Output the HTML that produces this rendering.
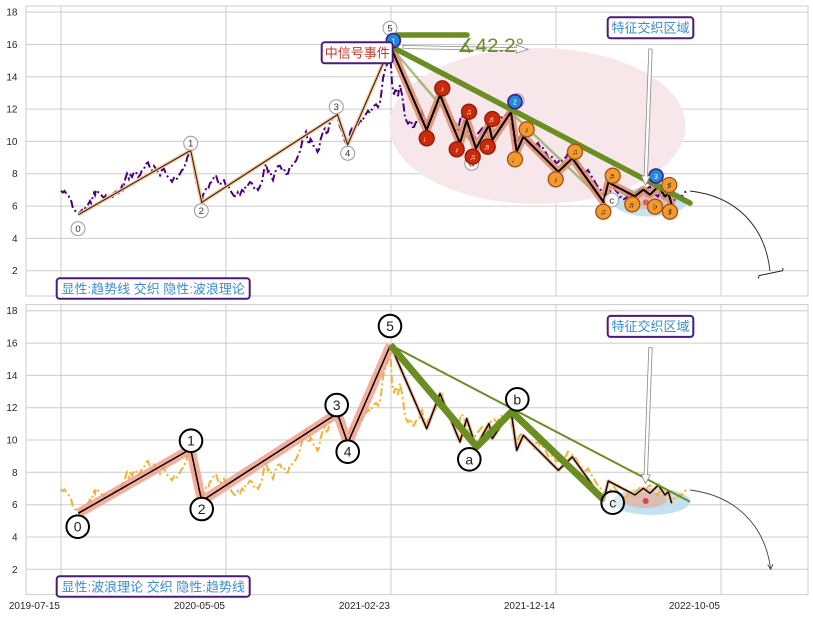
<!DOCTYPE html>
<html><head><meta charset="utf-8"><style>
html,body{margin:0;padding:0;background:#fff;}
svg{display:block;}
text{font-family:"Liberation Sans","Noto Sans CJK SC",sans-serif;}
.mk{font-family:"DejaVu Sans","Liberation Sans",sans-serif;font-size:8px;text-anchor:middle;}
</style></head><body>
<svg width="813" height="617" viewBox="0 0 813 617" xmlns="http://www.w3.org/2000/svg" xmlns:xlink="http://www.w3.org/1999/xlink">
<defs>
<clipPath id="ca"><rect x="26" y="6" width="782" height="290"/></clipPath>
<path id="price" d="M61,190.7 L63,192.5 64.5,191 66,193.1 68,195.5 70,198 71.5,202 73,208.5 74.5,210 76,211.7 78,213.5 80,212.5 82,210 83,212 84,210.9 86,206 88,204.4 90,201 91,203 92,199.6 94,193 95,195 96,189.9 98,192 100,193.1 102,196 104,198 106,195 108,196.4 110,199 112,198 114,193 116,191.5 118,194 120,191.5 122,186 123,189 124,185 125.5,178 127,173.7 129,179 130.5,175 132,177 134,172 136,172.1 138,177 140,175.3 142,170 144,168.9 146,164 148,162.4 150,168 152,170.5 154,166 156,168.9 158,172 160,175.3 162,170 164,168.9 166,174 168,177 170,179 172,181.8 174,178 176,180.2 178,177 180,173.7 182,170 184,168.9 185,165 186,164 187,158 188,155.9 189.5,152 190.7,151.1 192,158 193,164 194.5,172 196,180.2 197.5,186 199,193.1 200.5,198 201.7,201.2 203,195 204,193.1 206,189 208,189.9 210,183 212,181.8 214,177 216,175.3 218,182 220,185 222,181 224,180.2 226,186 228,185 230,190 232,193.1 234,196 236,196.4 238,192 240,194.7 242,190 244,191.5 246,185 248,185 250,182 252,183.4 254,188 256,186.7 258,190 259,188.3 261,184 262,181.8 264,170 266,164 268,172 270,170.5 272,178 273,180.2 275,172 276,170.5 278,166 280,165.7 282,170 284,168.9 286,174 288,173.7 290,166 292,165.7 294,163 296,160.8 298,156 300,151.1 301.5,145 303,138.2 304.5,134 306,131.7 307.5,140 309,144.6 310.5,139 312,141.4 314,147 316,147.9 317.5,152 319,149.5 320.5,140 322,134.9 323.5,130 325,128.5 326.5,133 328,131.7 329.5,124 331,122 332.5,119 334,117.2 335.5,116 337,115.6 338.5,121 340,126.8 341.5,130 343,134.9 344.5,140 346,143 347.5,145 349,138.2 350.5,131 352,128.5 354,130 356,126.8 358,125 360,120.4 362,122 364,117.2 366,114 368,110.7 370,113 372,109.1 374,106 376,104.3 378,107 380,102.6 381.5,92 383,78.4 384.5,72 386,67.1 387.5,63 388.5,60.6 389.5,57 390.5,55.8 391.2,70 392,83.2 393,90 394,94.6 395,91 396,88.1 397,93 398,96.2 399,90 400,84.9 401,90 402,94.6 403.5,105 405,117.2 406.5,121 408,123.6 409.5,122 411,120.4 412.5,127 414,126.8 416,122 418,122 420,118 422,112.3 424,120 426,125.3 428,122 430,118.8 432,117 434,114 436,109 438,104.3 440,99 442,96.2 444,104 446,110.7 448,115 450,118.8 452,124 454,128.5 456,130 458,131.7 460,120 462,115.6 464,121 466,123.6 468,131 470,136.5 472,140 474,141.4 476,136 478,133.3 480,131 482,128.5 484,133 486,134.9 488,128 490,125.3 492,121 494,120.4 496,123 498,122 500,118 502,117.2 504,115 506,115.6 508,113 510,114 511.5,125 513,133.3 514.5,142 516,147.9 517.5,142 519,138.2 520.5,136 522,134.9 524,139 526,141.4 528,142 530,144.6 532,146 534,149.5 536,145 538,143 540,147 542,146.3 544,150 546,152.7 548,157 550,159.2 552,157 554,159.2 556,163 558,162.4 560,159 562,160.8 564,158 566,157.6 568,153 570,154.3 572,156 574,157.6 576,160 578,164 580,167 582,168.9 584,171 586,172.1 588,170 590,173.7 592,177 594,180.2 596,184 598,186.7 600,189 602,191.5 604,195 606,196.4 608,192 610,191.5 612,189 614,188.3 616,191 618,193.1 620,197 622,196.4 624,199 626,198 628,195 630,194.7 632,197 634,196.4 636,193 638,191.5 640,189 642,188.3 644,192 646,191.5 648,188 650,186.7 652,190 654,193.1 656,195 658,196.4 660,193 662,194.7 664,198 666,198 668,196 670,198 672,201 674,201.2 676,197 678,198 680,196 682,196.4 684,193 686,191.5 688.5,189.9"/>
<g id="grid" stroke="#cccccc" stroke-width="1" fill="none">
<path d="M26,270.7H808M26,238.4H808M26,206.1H808M26,173.7H808M26,141.4H808M26,109.1H808M26,76.8H808M26,44.5H808M26,12.1H808"/>
<path d="M61,6V296M226,6V296M391,6V296M556,6V296M721,6V296"/>
<rect x="26" y="6" width="782" height="290"/>
</g>
</defs>
<rect width="813" height="617" fill="#fff"/>

<use xlink:href="#grid"/>
<use xlink:href="#grid" transform="translate(0,298.6)"/>

<!-- y tick labels -->
<g font-size="10" fill="#262626" text-anchor="end">
<text x="17.5" y="274.2">2</text><text x="17.5" y="241.9">4</text><text x="17.5" y="209.6">6</text><text x="17.5" y="177.2">8</text><text x="17.5" y="144.9">10</text><text x="17.5" y="112.6">12</text><text x="17.5" y="80.3">14</text><text x="17.5" y="48">16</text><text x="17.5" y="15.6">18</text>
<text x="17.5" y="572.8">2</text><text x="17.5" y="540.5">4</text><text x="17.5" y="508.2">6</text><text x="17.5" y="475.8">8</text><text x="17.5" y="443.5">10</text><text x="17.5" y="411.2">12</text><text x="17.5" y="378.9">14</text><text x="17.5" y="346.6">16</text><text x="17.5" y="314.2">18</text>
</g>
<g font-size="10" fill="#262626" text-anchor="end">
<text x="60" y="609">2019-07-15</text>
<text x="225" y="609">2020-05-05</text>
<text x="390" y="609">2021-02-23</text>
<text x="555" y="609">2021-12-14</text>
<text x="720" y="609">2022-10-05</text>
</g>

<!-- ================= TOP PANEL ================= -->
<g clip-path="url(#ca)">
<ellipse cx="537.5" cy="126" rx="148" ry="78" fill="#f7e7ea"/>
<ellipse cx="650" cy="202" rx="37" ry="14.5" fill="#b9dcef" opacity="0.8"/>
<ellipse cx="645" cy="201.4" rx="22" ry="8" fill="#e8a88e" opacity="0.55"/>
<circle cx="645.7" cy="202.4" r="3" fill="#d9434a" opacity="0.8"/>
<use xlink:href="#price" fill="none" stroke="#4b0082" stroke-width="2" stroke-dasharray="8,3,2,3"/>
<!-- main waves -->
<polyline points="78.3,214.7 190.7,150.4 201.7,202.4 337.5,114.7 347.7,144.7 390.5,46.4" fill="none" stroke="#f6c193" stroke-width="3.5" stroke-linejoin="round"/>
<polyline points="78.3,214.7 190.7,150.4 201.7,202.4 337.5,114.7 347.7,144.7 390.5,46.4" fill="none" stroke="#2a1a10" stroke-width="1"/>
<!-- light green abc -->
<polyline points="390.5,46.4 476.7,148.1 511.7,113.1 604,201.4" fill="none" stroke="#6b8e23" stroke-opacity="0.55" stroke-width="2.5"/>
<!-- subwaves -->
<polyline points="390.5,46.4 426.7,130 440,95 460,143.3 466.7,120 476,148.3 489,125 492.3,140 511,112 516.7,151.7 523.3,136.7 558.3,171.7 572.3,158.3 603.5,202 608.3,182.4 635,196.4 643.3,189.7 650,194.7 658.3,186.4 665,196.4 668.3,193 671.7,204.7" fill="none" stroke="#e08a6c" stroke-opacity="0.85" stroke-width="8" stroke-linejoin="round"/>
<polyline points="390.5,46.4 426.7,130 440,95 460,143.3 466.7,120 476,148.3 489,125 492.3,140 511,112 516.7,151.7 523.3,136.7 558.3,171.7 572.3,158.3 603.5,202 608.3,182.4 635,196.4 643.3,189.7 650,194.7 658.3,186.4 665,196.4 668.3,193 671.7,204.7" fill="none" stroke="#000" stroke-width="2" stroke-linejoin="round"/>
<!-- thick green -->
<line x1="391" y1="46.4" x2="690" y2="203.1" stroke="#6b8e23" stroke-width="5.5" stroke-linecap="round"/>
<line x1="396" y1="35" x2="467" y2="35" stroke="#6b8e23" stroke-width="5.5" stroke-linecap="round"/>
<!-- wave labels -->
<g fill="#fff" fill-opacity="0.8" stroke="#9a9a9a" stroke-width="1">
<circle cx="78" cy="228.7" r="7"/><circle cx="190.7" cy="143.3" r="7"/><circle cx="201.3" cy="210.7" r="7"/><circle cx="336.3" cy="106.7" r="7"/><circle cx="347.7" cy="153.3" r="7"/><circle cx="390" cy="28.3" r="7"/><circle cx="471.7" cy="163.3" r="7"/><circle cx="517" cy="100.7" r="7"/><circle cx="611.7" cy="200" r="7"/>
</g>
<g font-size="9.5" fill="#333" text-anchor="middle">
<text x="78" y="232">0</text><text x="190.7" y="146.6">1</text><text x="201.3" y="214">2</text><text x="336.3" y="110">3</text><text x="347.7" y="156.6">4</text><text x="390" y="31.6">5</text><text x="471.7" y="166.6">a</text><text x="611.7" y="203.3">c</text>
</g>
<!-- red markers -->
<g fill="#cc2a08" stroke="#8e1c04" stroke-width="1.3">
<circle cx="426.7" cy="138.3" r="7.5"/><circle cx="442.3" cy="88.3" r="7.5"/><circle cx="456.7" cy="149.3" r="7.5"/><circle cx="469" cy="111.7" r="7.5"/><circle cx="472.7" cy="156.7" r="7.5"/><circle cx="487.7" cy="146.7" r="7.5"/><circle cx="492.3" cy="119" r="7.5"/>
</g>
<g class="mk" fill="#fff">
<text x="426.7" y="141.3">♩</text><text x="442.3" y="91.3">♪</text><text x="456.7" y="152.3">♪</text><text x="469" y="114.7">♫</text><text x="472.7" y="159.7">♫</text><text x="487.7" y="149.7">♬</text><text x="492.3" y="122">♬</text>
</g>
<!-- orange markers -->
<g fill="#f39a2e" stroke="#a4500f" stroke-width="1.3">
<circle cx="515" cy="159.3" r="7.5"/><circle cx="526.7" cy="129.3" r="7.5"/><circle cx="555.7" cy="179.3" r="7.5"/><circle cx="575" cy="151.7" r="7.5"/><circle cx="603.3" cy="211.7" r="7.5"/><circle cx="612.7" cy="175.7" r="7.5"/><circle cx="632.3" cy="204.3" r="7.5"/><circle cx="655" cy="206.7" r="7.5"/><circle cx="669.3" cy="185" r="7.5"/><circle cx="670" cy="211.7" r="7.5"/>
</g>
<g class="mk" fill="#222">
<text x="515" y="162.3">♩</text><text x="526.7" y="132.3">♪</text><text x="555.7" y="182.3">♪</text><text x="575" y="154.7">♫</text><text x="603.3" y="214.7">♫</text><text x="612.7" y="178.7">♬</text><text x="632.3" y="207.3">♬</text><text x="655" y="209.7">♭</text><text x="669.3" y="188">♯</text><text x="670" y="214.7">♯</text>
</g>
<!-- blue markers -->
<g fill="#1f8ad8" stroke="#3d1a8c" stroke-width="1.6">
<circle cx="393.3" cy="40.5" r="7"/><circle cx="515" cy="101.7" r="7"/><circle cx="656" cy="176" r="7"/>
</g>
<g class="mk" fill="#fff">
<text x="393.3" y="43.3" font-size="7">1</text><text x="515" y="104.5" font-size="7">2</text><text x="656" y="178.8" font-size="7">3</text>
</g>
</g>

<!-- top annotations -->
<rect x="321.7" y="42.3" width="71" height="21" rx="3" fill="#fff" stroke="#4b1a7a" stroke-width="2"/>
<text x="357.2" y="57.6" font-size="13" fill="#c0392b" text-anchor="middle">中信号事件</text>
<polygon points="403,45.5 516.3,47.6 516.3,45.1 528.3,49.3 516.3,53.1 516.3,50.6 403,48.5" fill="#fff" stroke="#8a8a8a" stroke-width="0.8"/>
<text x="457" y="52" font-size="19" fill="#6b8e23" textLength="67" lengthAdjust="spacingAndGlyphs">∡42.2°</text>

<g id="featbox">
<rect x="607.7" y="17.3" width="85.6" height="21" rx="3" fill="#fff" stroke="#4b1a7a" stroke-width="2"/>
<text x="650.5" y="32.5" font-size="13" fill="#3a8cd0" text-anchor="middle">特征交织区域</text>
<polygon points="652.2,49.1 647.5,176.1 650.3,176.2 645.5,185 641.3,175.8 644.1,175.9 648.8,48.9" fill="#fff" stroke="#8a8a8a" stroke-width="0.8"/>
</g>

<!-- top curved T-bar arrow -->
<path d="M690,191 C735,196 765,225 770,271" fill="none" stroke="#222" stroke-width="0.9"/>
<path d="M759,275.6 L783,270.6 M759,275.6 L758.5,278.5 M783,270.6 L782.6,268" fill="none" stroke="#222" stroke-width="1"/>

<!-- top legend -->
<rect x="56.7" y="278.3" width="193" height="20.5" rx="3" fill="#fff" stroke="#4b1a7a" stroke-width="2"/>
<text x="153.2" y="293.4" font-size="13" fill="#3a8cd0" text-anchor="middle">显性:趋势线 交织 隐性:波浪理论</text>

<!-- ================= BOTTOM PANEL ================= -->
<g transform="translate(0,298.6)">
<g clip-path="url(#ca)">
<ellipse cx="651.5" cy="202.9" rx="38.5" ry="13.5" fill="#b9dcef" opacity="0.85"/>
<ellipse cx="645" cy="201.4" rx="22" ry="8" fill="#e8a88e" opacity="0.6"/>
<circle cx="645.7" cy="202.4" r="3" fill="#d9434a"/>
<use xlink:href="#price" fill="none" stroke="#f0b232" stroke-width="2" stroke-dasharray="8,3,2,3"/>
<polyline points="78.3,214.7 190.7,150.4 201.7,202.4 337.5,114.7 347.7,144.7 390.5,46.4" fill="none" stroke="#f09a86" stroke-opacity="0.8" stroke-width="9.5" stroke-linejoin="round"/>
<polyline points="78.3,214.7 190.7,150.4 201.7,202.4 337.5,114.7 347.7,144.7 390.5,46.4" fill="none" stroke="#000" stroke-width="1.5"/>
<polyline points="390.5,46.4 426.7,130 440,95 460,143.3 466.7,120 476,148.3 489,125 492.3,140 511,112 516.7,151.7 523.3,136.7 558.3,171.7 572.3,158.3 603.5,202 608.3,182.4 635,196.4 643.3,189.7 650,194.7 658.3,186.4 665,196.4 668.3,193 671.7,204.7" fill="none" stroke="#f2b48a" stroke-width="3.5" stroke-linejoin="round"/>
<polyline points="390.5,46.4 426.7,130 440,95 460,143.3 466.7,120 476,148.3 489,125 492.3,140 511,112 516.7,151.7 523.3,136.7 558.3,171.7 572.3,158.3 603.5,202 608.3,182.4 635,196.4 643.3,189.7 650,194.7 658.3,186.4 665,196.4 668.3,193 671.7,204.7" fill="none" stroke="#000" stroke-width="1.4" stroke-linejoin="round"/>
<line x1="390.5" y1="46.4" x2="690" y2="203.1" stroke="#6b8e23" stroke-width="2"/>
<polyline points="390.5,46.4 476.7,148.1 511.7,113.1 604,201.4" fill="none" stroke="#6b8e23" stroke-width="7" stroke-linejoin="round"/>
<g fill="#fff" stroke="#000" stroke-width="2">
<circle cx="77.7" cy="228.1" r="11.3"/><circle cx="191" cy="142.1" r="11.3"/><circle cx="201.7" cy="210.4" r="11.3"/><circle cx="336.7" cy="106.4" r="11.3"/><circle cx="347.7" cy="153.1" r="11.3"/><circle cx="390" cy="27.4" r="11.3"/><circle cx="469.3" cy="160.7" r="11.3"/><circle cx="517.3" cy="100.7" r="11.3"/>
<circle cx="612.7" cy="204.1" r="11.3" fill-opacity="0.35"/>
</g>
<g font-size="14" fill="#222" text-anchor="middle">
<text x="77.7" y="233.1">0</text><text x="191" y="147.1">1</text><text x="201.7" y="215.4">2</text><text x="336.7" y="111.4">3</text><text x="347.7" y="158.1">4</text><text x="390" y="32.4">5</text><text x="469.3" y="165.7">a</text><text x="517.3" y="105.7">b</text><text x="612.7" y="209.1">c</text>
</g>
</g>
<use xlink:href="#featbox"/>
<path d="M690,191.4 C735,197 765,226 770.7,270.7" fill="none" stroke="#444" stroke-width="0.9"/>
<path d="M767.7,266 L770.7,270.7 L772.9,265.6" fill="none" stroke="#444" stroke-width="0.9"/>
<rect x="56.7" y="277.6" width="193" height="20.5" rx="3" fill="#fff" stroke="#4b1a7a" stroke-width="2"/>
<text x="153.2" y="292.7" font-size="13" fill="#3a8cd0" text-anchor="middle">显性:波浪理论 交织 隐性:趋势线</text>
</g>
</svg>
</body></html>
